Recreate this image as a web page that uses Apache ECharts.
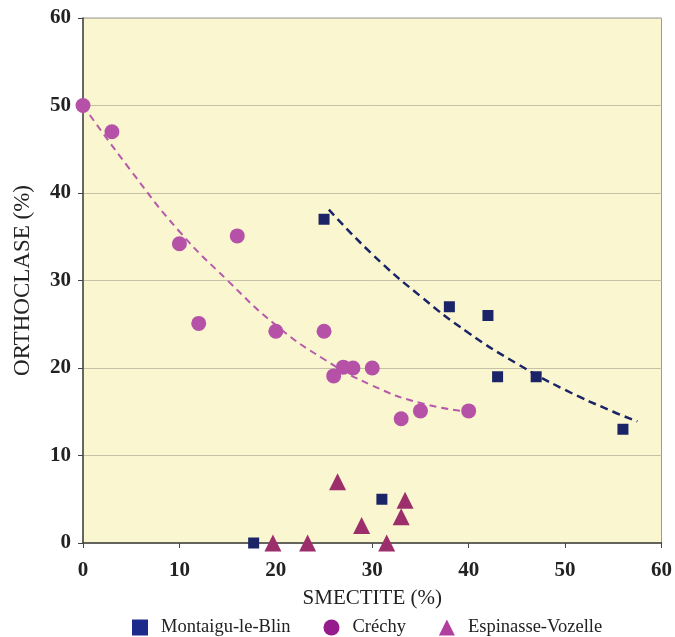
<!DOCTYPE html>
<html>
<head>
<meta charset="utf-8">
<script src="https://cdn.jsdelivr.net/npm/echarts@6/dist/echarts.min.js"></script>
<style>
html, body { margin: 0; padding: 0; background: #fff; }
#chart { width: 675px; height: 637px; }
</style>
</head>
<body>
<div id="chart"></div>
<script>
// sample points [smectite, orthoclase]
var montaigu = [[25, 37], [38, 27], [42, 26], [43, 19], [47, 19], [56, 13], [31, 5], [17.7, 0]];
var crechy = [[0, 50], [3, 47], [10, 34.2], [12, 25.1], [16, 35.1], [20, 24.2], [25, 24.2], [26, 19.1],
	[27, 20.1], [28, 20], [30, 20], [33, 14.2], [35, 15.1], [40, 15.1]];
var espinasse = [[19.7, 0], [23.3, 0], [26.4, 7], [28.9, 2], [31.5, 0], [33, 3], [33.4, 4.9]];

// dashed trend curves
var montaiguTrend = [[25.5, 38.1], [30, 33], [35, 28.2], [40, 24], [45, 20.5], [50, 17.5], [55, 15], [57.5, 13.9]];
var crechyTrend = [[0, 50], [5, 42.5], [10, 35.6], [15, 30], [20, 24.9], [25, 21], [30, 18], [35, 16], [40, 15]];

var seriesNames = ['Montaigu-le-Blin', 'Créchy', 'Espinasse-Vozelle'];
var axisTicks = [0, 10, 20, 30, 40, 50, 60];

var serif = '"Liberation Serif", "DejaVu Serif", serif';

var myChart = echarts.init(document.getElementById('chart'));

var option = {
	animation: false,
	backgroundColor: '#fff',
	grid: {
		left: 83,
		right: 13,
		top: 18,
		bottom: 94,
		show: true,
		backgroundColor: '#faf6cf',
		borderColor: '#9a9a9a',
		borderWidth: 1
	},
	legend: {
		bottom: 0,
		left: 132,
		padding: [0, 0, 0, 0],
		itemGap: 33,
		itemWidth: 16,
		itemHeight: 16,
		textStyle: { fontFamily: serif, fontSize: 18.5, color: '#222', padding: [0, 0, 0, 8] },
		data: [
			{ name: seriesNames[0], icon: 'path://M2,2L14,2L14,14L2,14Z', itemStyle: { color: '#1c2a8c' } },
			{ name: seriesNames[1], icon: 'circle', itemStyle: { color: '#951c8a' } },
			{ name: seriesNames[2], icon: 'triangle', itemStyle: { color: '#b03f9d' } }
		]
	},
	xAxis: {
		type: 'value',
		min: axisTicks[0],
		max: axisTicks[axisTicks.length - 1],
		interval: 10,
		name: 'SMECTITE (%)',
		nameLocation: 'middle',
		nameGap: 45,
		nameTextStyle: { fontFamily: serif, fontSize: 21, color: '#222' },
		axisLine: { lineStyle: { color: '#444', width: 1.5 } },
		axisTick: { length: 5, lineStyle: { color: '#444' } },
		axisLabel: { margin: 17, fontFamily: serif, fontSize: 21, fontWeight: 'bold', color: '#222' },
		splitLine: { show: false }
	},
	yAxis: {
		type: 'value',
		min: axisTicks[0],
		max: axisTicks[axisTicks.length - 1],
		interval: 10,
		name: 'ORTHOCLASE (%)',
		nameLocation: 'middle',
		nameGap: 49,
		nameTextStyle: { fontFamily: serif, fontSize: 23, color: '#222' },
		axisLine: { show: true, lineStyle: { color: '#444', width: 1.5 } },
		axisTick: { show: true, length: 5, lineStyle: { color: '#444' } },
		axisLabel: { margin: 12, fontFamily: serif, fontSize: 21, fontWeight: 'bold', color: '#222' },
		splitLine: { lineStyle: { color: '#c4c1a6', width: 1 } }
	},
	series: [
		{
			name: 'trend-crechy',
			type: 'line',
			data: crechyTrend,
			smooth: true,
			symbol: 'none',
			silent: true,
			lineStyle: { color: '#b659ab', width: 2, type: [7, 5] },
			z: 1
		},
		{
			name: 'trend-montaigu',
			type: 'line',
			data: montaiguTrend,
			smooth: true,
			symbol: 'none',
			silent: true,
			lineStyle: { color: '#1b2466', width: 2.5, type: [8, 5] },
			z: 1
		},
		{
			name: seriesNames[0],
			type: 'scatter',
			data: montaigu,
			symbol: 'rect',
			symbolSize: 11,
			itemStyle: { color: '#1b2466', opacity: 1 },
			z: 3
		},
		{
			name: seriesNames[1],
			type: 'scatter',
			data: crechy,
			symbol: 'circle',
			symbolSize: 15,
			itemStyle: { color: '#b552a8', opacity: 1 },
			z: 3
		},
		{
			name: seriesNames[2],
			type: 'scatter',
			data: espinasse,
			symbol: 'triangle',
			symbolSize: 17,
			itemStyle: { color: '#9c2e6b', opacity: 1 },
			z: 3
		}
	]
};

myChart.setOption(option);
</script>
</body>
</html>
